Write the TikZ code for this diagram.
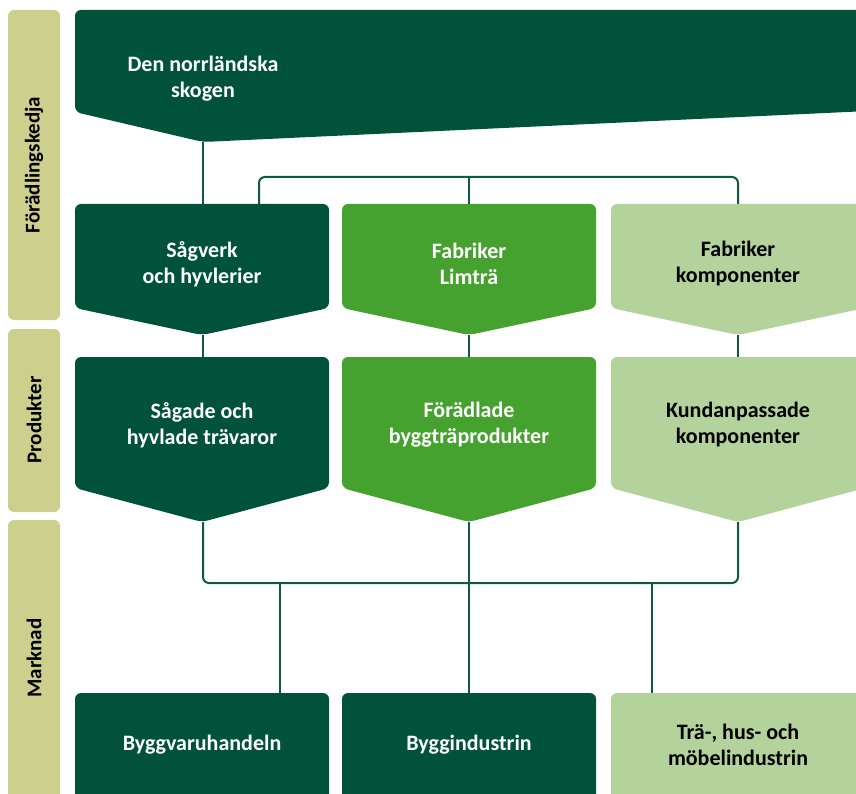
\documentclass[tikz,border=0pt]{standalone}
\usepackage{fontspec}
\setmainfont{Carlito}
\definecolor{morkgron}{HTML}{00523B}
\definecolor{mellangron}{HTML}{46A22E}
\definecolor{ljusgron}{HTML}{B4D29C}
\definecolor{kaki}{HTML}{CDD08C}
\definecolor{linjefarg}{HTML}{0D5A42}

\begin{document}
\begin{tikzpicture}[x=1pt, y=-1pt,
        etikett/.style={font=\bfseries\fontsize{22}{26}\selectfont, align=center, text=white},
        morketikett/.style={etikett, text=black},
        sidoetikett/.style={font=\bfseries\fontsize{21}{24}\selectfont, rotate=90, text=black},
        linjer/.style={draw=linjefarg, line width=2pt, rounded corners=6pt}]

                \useasboundingbox (0,0) rectangle (856,794);
                \clip (0,0) rectangle (856,794);

                % punkter
                \coordinate (skog-spets) at (203,142);
                \coordinate (gren-v) at (259,204);
                \coordinate (gren) at (469,177);
                \coordinate (sag-topp) at (203,204);
                \coordinate (lim-topp) at (469,204);
                \coordinate (komp-topp) at (738,204);
                \coordinate (sag-spets) at (203,335);
                \coordinate (lim-spets) at (469,335);
                \coordinate (komp-spets) at (738,335);
                \coordinate (sagade-topp) at (203,357);
                \coordinate (forad-topp) at (469,357);
                \coordinate (kund-topp) at (738,357);
                \coordinate (sagade-spets) at (203,522);
                \coordinate (forad-spets) at (469,522);
                \coordinate (kund-spets) at (738,522);
                \coordinate (samla) at (469,583);
                \coordinate (handel-in) at (280,693);
                \coordinate (industri-in) at (469,693);
                \coordinate (mobel-in) at (652,693);

                % linjer
                \draw[linjer] (skog-spets) -- (sag-topp);
                \draw[linjer] (gren-v) |- (gren) -| (komp-topp);
                \draw[linjer] (gren) -- (lim-topp);
                \foreach \a/\b in {sag-spets/sagade-topp, lim-spets/forad-topp, komp-spets/kund-topp}
                    \draw[linjer] (\a) -- (\b);
                \draw[linjer] (sagade-spets) |- (samla) -| (kund-spets);
                \draw[linjer] (forad-spets) -- (industri-in);
                \draw[linjer] (handel-in) -- (handel-in |- samla);
                \draw[linjer] (mobel-in) -- (mobel-in |- samla);

                % sidofalt
                \fill[kaki, rounded corners=6pt] (8,10) rectangle (60,320);
                \fill[kaki, rounded corners=6pt] (8,329) rectangle (60,512);
                \fill[kaki, rounded corners=6pt] (8,520) rectangle (60,820);

                % skogen
                \fill[morkgron, rounded corners=6pt] (75,10) -- (890,10) -- (890,110) -- (203,142) -- (75,112) -- cycle;

                % rutor
                \foreach \x/\farg in {202/morkgron, 469/mellangron, 738/ljusgron} {
                    \fill[\farg, rounded corners=6pt] (\x-127,204) -- (\x+127,204) -- (\x+127,308) -- (\x,335) -- (\x-127,308) -- cycle;
                    \fill[\farg, rounded corners=6pt] (\x-127,357) -- (\x+127,357) -- (\x+127,488) -- (\x,522) -- (\x-127,488) -- cycle;
                }
                \foreach \x/\farg in {202/morkgron, 469/morkgron, 738/ljusgron}
                    \fill[\farg, rounded corners=6pt] (\x-127,693) rectangle (\x+127,830);

                % texter
                \node[sidoetikett] (kedja) at (34,165) {Förädlingskedja};
                \node[sidoetikett] (produkter) at (34,420) {Produkter};
                \node[sidoetikett] (marknad) at (34,658) {Marknad};

                \node[etikett] (skogen) at (203,79) {Den norrländska\\skogen};
                \node[etikett] (sagverk) at (202,264) {Sågverk\\och hyvlerier};
                \node[etikett] (limtra) at (469,264) {Fabriker\\Limträ};
                \node[morketikett] (komponenter) at (738,264) {Fabriker\\komponenter};
                \node[etikett] (sagade) at (202,425) {Sågade och\\hyvlade trävaror};
                \node[etikett] (foradlade) at (469,425) {Förädlade\\byggträprodukter};
                \node[morketikett] (kundanpassade) at (738,425) {Kundanpassade\\komponenter};
                \node[etikett] (handeln) at (202,745) {Byggvaruhandeln};
                \node[etikett] (industrin) at (469,745) {Byggindustrin};
                \node[morketikett] (mobel) at (738,745) {Trä-, hus- och\\möbelindustrin};
            \end{tikzpicture}
\end{document}
